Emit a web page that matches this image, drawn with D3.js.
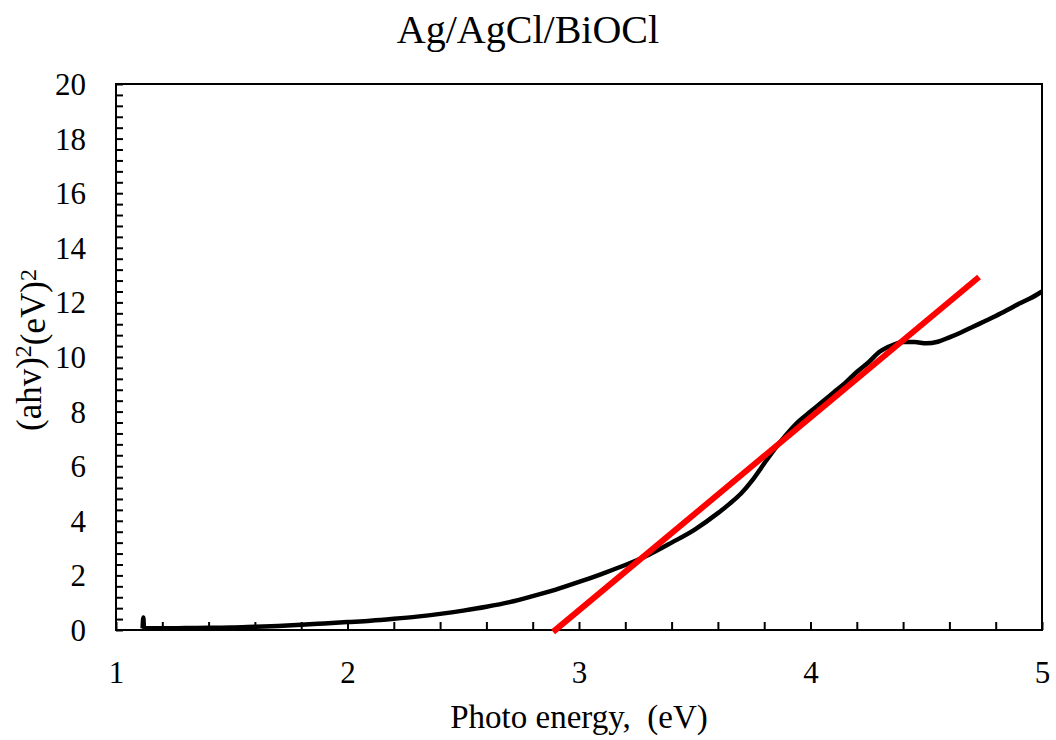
<!DOCTYPE html>
<html>
<head>
<meta charset="utf-8">
<script src="https://cdn.jsdelivr.net/npm/d3@7"></script>
<style>
  html, body { margin: 0; padding: 0; background: #fff; }
  svg { display: block; }
  text { font-family: "Liberation Serif", "Times New Roman", serif; fill: #000; }
</style>
</head>
<body>
<svg id="chart" width="1056" height="740"></svg>
<script>
// Tauc plot of Ag/AgCl/BiOCl: (αhν)² against photon energy
const energy = [1.115, 1.118, 1.121, 1.2, 1.3, 1.4, 1.5, 1.6, 1.7, 1.8, 1.9, 2.0, 2.1, 2.2, 2.3, 2.4,
  2.5, 2.6, 2.7, 2.8, 2.9, 3.0, 3.1, 3.2, 3.3, 3.4, 3.5, 3.6, 3.65, 3.7, 3.75, 3.8, 3.85, 3.9, 3.95,
  4.0, 4.05, 4.1, 4.15, 4.2, 4.25, 4.3, 4.35, 4.4, 4.45, 4.5, 4.55, 4.6, 4.65, 4.7, 4.75,
  4.8, 4.85, 4.9, 4.95, 5.0];
const tauc = [0.06, 0.46, 0.06, 0.06, 0.07, 0.08, 0.09, 0.12, 0.15, 0.19, 0.24, 0.29, 0.34, 0.41, 0.49, 0.59,
  0.71, 0.85, 1.02, 1.24, 1.48, 1.76, 2.06, 2.38, 2.75, 3.2, 3.68, 4.28, 4.62, 5.0, 5.5, 6.1, 6.68, 7.2, 7.65,
  8.0, 8.35, 8.7, 9.05, 9.45, 9.8, 10.2, 10.42, 10.55, 10.55, 10.5, 10.56, 10.72, 10.9, 11.1, 11.3,
  11.5, 11.72, 11.95, 12.15, 12.4];

// Linear extrapolation of the absorption edge
const fitEnergy = [2.888, 4.728];
const fitValue = [-0.07, 12.93];

const xDomain = [1, 5];
const yDomain = [0, 20];
const xTickLabels = [1, 2, 3, 4, 5];
const yTickLabels = [0, 2, 4, 6, 8, 10, 12, 14, 16, 18, 20];

const svg = d3.select("#chart");
const plot = { left: 116, right: 1042, top: 84, bottom: 630 };

const x = d3.scaleLinear().domain(xDomain).range([plot.left, plot.right]);
const y = d3.scaleLinear().domain(yDomain).range([plot.bottom, plot.top]);

const near = (a, b) => Math.abs(a - b) < 1e-6;
const serif = "'Liberation Serif', 'Times New Roman', serif";

// x axis: minor ticks every 0.2 pointing inward, labels at whole numbers
const xAxis = d3.axisBottom(x)
  .tickValues(d3.range(1, 5.0001, 0.2))
  .tickSize(-8)
  .tickPadding(31)
  .tickFormat(d => { const l = xTickLabels.find(v => near(v, d)); return l === undefined ? "" : String(l); });

svg.append("g")
  .attr("transform", `translate(0,${plot.bottom})`)
  .call(xAxis)
  .call(g => g.select(".domain").remove())
  .call(g => g.selectAll(".tick line").attr("stroke", "#000").attr("stroke-width", 2))
  .call(g => g.selectAll(".tick text").style("font-size", "31px").style("font-family", serif));

// y axis: minor ticks every 0.4 pointing inward, labels at even values
const yAxis = d3.axisLeft(y)
  .tickValues(d3.range(0, 20.0001, 0.4))
  .tickSize(-7)
  .tickPadding(30)
  .tickFormat(d => { const l = yTickLabels.find(v => near(v, d)); return l === undefined ? "" : String(l); });

svg.append("g")
  .attr("transform", `translate(${plot.left},0)`)
  .call(yAxis)
  .call(g => g.select(".domain").remove())
  .call(g => g.selectAll(".tick line").attr("stroke", "#000").attr("stroke-width", 2))
  .call(g => g.selectAll(".tick text").attr("dy", "0.34em").style("font-size", "31px").style("font-family", serif));

// plot frame
svg.append("rect")
  .attr("x", plot.left).attr("y", plot.top)
  .attr("width", plot.right - plot.left).attr("height", plot.bottom - plot.top)
  .attr("fill", "none").attr("stroke", "#000").attr("stroke-width", 2);

// measured curve
const points = energy.map((e, i) => [e, tauc[i]]);
svg.append("path")
  .datum(points)
  .attr("fill", "none")
  .attr("stroke", "#000")
  .attr("stroke-width", 4.5)
  .attr("stroke-linejoin", "round")
  .attr("d", d3.line().x(d => x(d[0])).y(d => y(d[1])).curve(d3.curveMonotoneX));

// tangent line
const fit = fitEnergy.map((e, i) => [e, fitValue[i]]);
svg.append("path")
  .datum(fit)
  .attr("fill", "none")
  .attr("stroke", "#ff0000")
  .attr("stroke-width", 6)
  .attr("d", d3.line().x(d => x(d[0])).y(d => y(d[1])));

// title and axis titles
svg.append("text")
  .attr("x", 528).attr("y", 43)
  .attr("text-anchor", "middle")
  .style("font-size", "40px")
  .text("Ag/AgCl/BiOCl");

svg.append("text")
  .attr("x", (plot.left + plot.right) / 2).attr("y", 728)
  .attr("text-anchor", "middle")
  .style("font-size", "33px")
  .style("white-space", "pre")
  .text("Photo energy,  (eV)");

const yLabel = svg.append("text")
  .attr("transform", "translate(41,350) rotate(-90)")
  .attr("text-anchor", "middle")
  .style("font-size", "35px");
yLabel.append("tspan").text("(ahv)");
yLabel.append("tspan").attr("dy", "-0.4em").style("font-size", "24px").text("2");
yLabel.append("tspan").attr("dy", "0.4em").text("(eV)");
yLabel.append("tspan").attr("dy", "-0.4em").style("font-size", "24px").text("2");
</script>
</body>
</html>
